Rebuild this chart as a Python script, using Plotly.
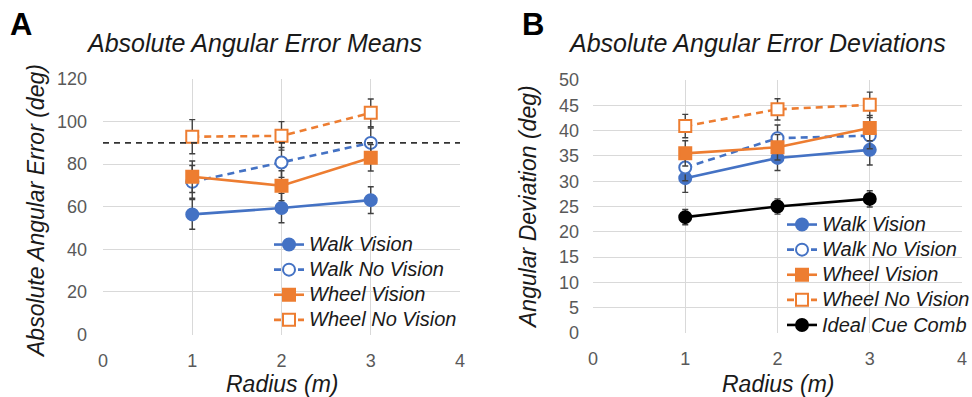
import plotly.graph_objects as go

# Radius levels (m)
radius = [1, 2, 3]

# Panel A: absolute angular error means (deg) and their error bars
walk_vision_mean = [56.4, 59.4, 63.1]
walk_vision_mean_err = [7.0, 6.9, 6.3]
walk_novision_mean = [71.7, 80.8, 90.0]
walk_novision_mean_err = [7.7, 7.0, 7.0]
wheel_vision_mean = [74.1, 69.9, 83.0]
wheel_vision_mean_err = [7.4, 7.0, 6.2]
wheel_novision_mean = [92.9, 93.3, 104.1]
wheel_novision_mean_err = [8.0, 6.7, 6.5]
chance_level = 90

# Panel B: absolute angular error deviations (deg) and their error bars
walk_vision_dev = [30.6, 34.6, 36.2]
walk_vision_dev_err = [2.8, 2.5, 3.0]
walk_novision_dev = [32.7, 38.5, 39.0]
walk_novision_dev_err = [2.6, 2.6, 2.6]
wheel_vision_dev = [35.5, 36.7, 40.5]
wheel_vision_dev_err = [2.5, 2.5, 2.5]
wheel_novision_dev = [40.9, 44.2, 45.1]
wheel_novision_dev_err = [2.3, 2.1, 2.5]
ideal_dev = [22.9, 25.0, 26.5]
ideal_dev_err = [1.5, 1.5, 1.6]

BLUE = "#4472C4"
ORANGE = "#ED7D31"
BLACK = "#000000"
ERR = "#404040"
FONT = "Liberation Sans"

W, H = 972, 397


def px_x(p):
    return p / W


def px_y(p):
    return 1 - p / H


def label(name):
    # legend rows stay compact while the label text is drawn larger
    return f"<span style='font-size:20px'>{name}</span>"


def series(x, y, err, name, color, symbol, filled, dashed, xa, ya, legend):
    return go.Scatter(
        x=x, y=y, name=label(name), mode="lines+markers",
        xaxis=xa, yaxis=ya, legend=legend,
        line=dict(color=color, width=2.6, dash="7px,5px" if dashed else "solid"),
        marker=dict(symbol=symbol, size=12,
                    color=color if filled else "white",
                    line=dict(color=color, width=2)),
        error_y=dict(type="data", array=err, visible=True,
                     color=ERR, thickness=1.4, width=3),
    )


fig = go.Figure()

# Panel A traces
fig.add_trace(series(radius, walk_vision_mean, walk_vision_mean_err, "Walk Vision",
                     BLUE, "circle", True, False, "x", "y", "legend"))
fig.add_trace(series(radius, walk_novision_mean, walk_novision_mean_err, "Walk No Vision",
                     BLUE, "circle", False, True, "x", "y", "legend"))
fig.add_trace(series(radius, wheel_vision_mean, wheel_vision_mean_err, "Wheel Vision",
                     ORANGE, "square", True, False, "x", "y", "legend"))
fig.add_trace(series(radius, wheel_novision_mean, wheel_novision_mean_err, "Wheel No Vision",
                     ORANGE, "square", False, True, "x", "y", "legend"))

# Panel B traces
fig.add_trace(series(radius, walk_vision_dev, walk_vision_dev_err, "Walk Vision",
                     BLUE, "circle", True, False, "x2", "y2", "legend2"))
fig.add_trace(series(radius, walk_novision_dev, walk_novision_dev_err, "Walk No Vision",
                     BLUE, "circle", False, True, "x2", "y2", "legend2"))
fig.add_trace(series(radius, wheel_vision_dev, wheel_vision_dev_err, "Wheel Vision",
                     ORANGE, "square", True, False, "x2", "y2", "legend2"))
fig.add_trace(series(radius, wheel_novision_dev, wheel_novision_dev_err, "Wheel No Vision",
                     ORANGE, "square", False, True, "x2", "y2", "legend2"))
fig.add_trace(series(radius, ideal_dev, ideal_dev_err, "Ideal Cue Comb",
                     BLACK, "circle", True, False, "x2", "y2", "legend2"))

# Chance-level reference line on panel A
fig.add_shape(type="line", xref="x", yref="y", x0=0, x1=4,
              y0=chance_level, y1=chance_level,
              line=dict(color="#333333", width=1.6, dash="6px,5px"), layer="above")

tick_font = dict(family=FONT, size=18, color="#595959")
grid = "#D9D9D9"

axis_common = dict(showgrid=True, gridcolor=grid, gridwidth=1, zeroline=False,
                   showline=False, ticks="", tickfont=tick_font, mirror=False,
                   automargin=False)

legend_font = dict(family=FONT, size=17, color="#1a1a1a", style="italic")

fig.update_layout(
    width=W, height=H,
    margin=dict(l=0, r=0, t=0, b=0, autoexpand=False),
    paper_bgcolor="white", plot_bgcolor="white",
    showlegend=True,
    xaxis=dict(domain=[px_x(103), px_x(460)], range=[0, 4], dtick=1,
               anchor="y", ticklabelstandoff=13, **axis_common),
    yaxis=dict(domain=[px_y(334.5), px_y(79)], range=[0, 120], dtick=20,
               anchor="x", ticklabelstandoff=15, **axis_common),
    xaxis2=dict(domain=[px_x(593), px_x(962)], range=[0, 4], dtick=1,
                anchor="y2", ticklabelstandoff=13, **axis_common),
    yaxis2=dict(domain=[px_y(333), px_y(80)], range=[0, 50], dtick=5,
                anchor="x2", ticklabelstandoff=13, **axis_common),
    legend=dict(x=px_x(269), y=px_y(227), xanchor="left", yanchor="top",
                bgcolor="rgba(0,0,0,0)", font=legend_font,
                itemwidth=30, tracegroupgap=0, traceorder="normal"),
    legend2=dict(x=px_x(782), y=px_y(207), xanchor="left", yanchor="top",
                 bgcolor="rgba(0,0,0,0)", font=legend_font,
                 itemwidth=30, tracegroupgap=0, traceorder="normal"),
)

title_font = dict(family=FONT, size=25, color="#1a1a1a", style="italic")
axis_title_font = dict(family=FONT, size=23, color="#1a1a1a", style="italic")
letter_font = dict(family=FONT, size=31, color="#000000", weight="bold")

annotations = [
    dict(text="A", x=px_x(21), y=px_y(25), font=letter_font),
    dict(text="B", x=px_x(533), y=px_y(25), font=letter_font),
    dict(text="Absolute Angular Error Means", x=px_x(254), y=px_y(43), font=title_font),
    dict(text="Absolute Angular Error Deviations", x=px_x(757), y=px_y(43), font=title_font),
    dict(text="Radius (m)", x=px_x(282), y=px_y(384), font=axis_title_font),
    dict(text="Radius (m)", x=px_x(778), y=px_y(384), font=axis_title_font),
    dict(text="Absolute Angular Error (deg)", x=px_x(36), y=px_y(211),
         font=axis_title_font, textangle=-90),
    dict(text="Angular Deviation (deg)", x=px_x(528), y=px_y(207),
         font=axis_title_font, textangle=-90),
]
for a in annotations:
    fig.add_annotation(xref="paper", yref="paper", showarrow=False,
                       xanchor="center", yanchor="middle", **a)

fig.write_html("out.html")
